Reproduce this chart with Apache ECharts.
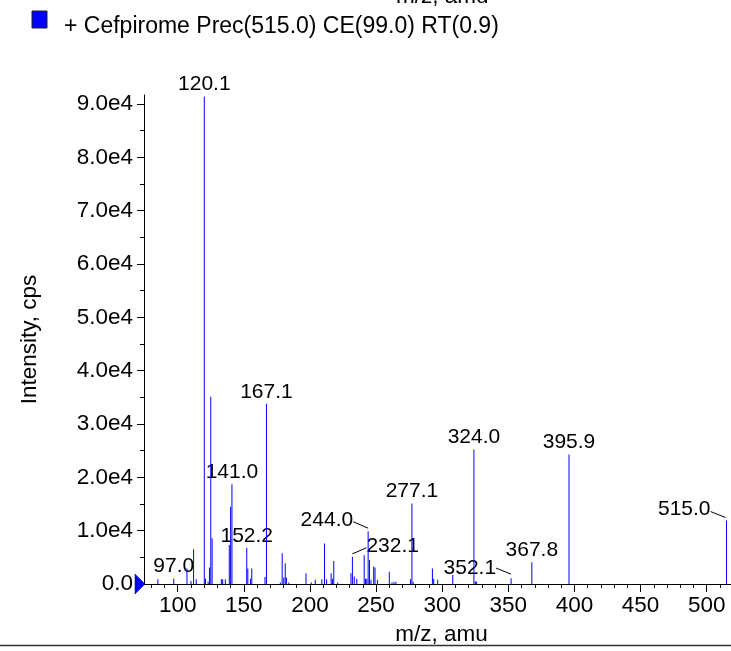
<!DOCTYPE html>
<html><head><meta charset="utf-8">
<script src="https://cdn.jsdelivr.net/npm/echarts@6/dist/echarts.min.js"></script>
<style>html,body{margin:0;padding:0;background:#fff}#c{width:731px;height:651px}</style>
</head><body><div id="c"></div>
<script>
const seriesName = '+ Cefpirome Prec(515.0) CE(99.0) RT(0.9)';
const xAxisTitle = 'm/z, amu';
const yAxisTitle = 'Intensity, cps';

// spectrum sticks (m/z, intensity in cps)
const peakMz = [85.0, 97.0, 107.0, 110.0, 112.0, 114.0, 120.1, 121.0, 123.0, 124.0, 125.0, 126.0,
  133.0, 134.0, 136.0, 139.0, 140.0, 141.0, 152.2, 153.0, 155.0, 156.0, 166.0, 167.1,
  177.6, 179.0, 180.2, 181.3, 182.2, 184.0, 197.0, 201.0, 204.0, 209.0, 211.0, 212.6,
  216.0, 217.0, 218.0, 221.0, 231.0, 232.1, 233.5, 235.4, 241.0, 242.0, 243.0, 244.0,
  245.0, 246.2, 248.2, 249.2, 251.0, 260.0, 262.0, 263.5, 265.0, 276.0, 277.1, 278.0,
  292.6, 293.6, 296.6, 308.0, 324.0, 325.0, 326.0, 352.1, 367.8, 395.9, 515.0];
const peakIntensity = [900, 1000, 2900, 560, 6500, 900, 91400, 1000, 400, 3100, 35100, 8600,
  900, 900, 900, 7300, 14500, 18700, 6800, 2900, 1000, 2900, 1300, 33800,
  300, 5750, 1200, 3900, 1200, 300, 2000, 300, 800, 900, 7600, 900,
  2000, 1000, 4300, 300, 2000, 5100, 1400, 1000, 5400, 1000, 1000, 9900,
  4500, 800, 3300, 3100, 800, 2300, 300, 400, 400, 900, 15100, 400,
  2900, 1000, 800, 1700, 25200, 500, 400, 1100, 4100, 24300, 11900];

// annotated peaks
const labeledMz = [97.0, 120.1, 141.0, 152.2, 167.1, 232.1, 244.0, 277.1, 324.0, 352.1, 367.8, 395.9, 515.0];
const labeledIntensity = [1000, 91400, 18700, 6800, 33800, 5100, 9900, 15100, 25200, 1100, 4100, 24300, 11900];

// axis ticks
const xTickValues = [100, 150, 200, 250, 300, 350, 400, 450, 500];
const xMinorTickValues = [80, 90, 110, 120, 130, 140, 160, 170, 180, 190, 210, 220, 230, 240,
  260, 270, 280, 290, 310, 320, 330, 340, 360, 370, 380, 390, 410, 420, 430, 440,
  460, 470, 480, 490, 510];
const yTickValues = [0, 10000, 20000, 30000, 40000, 50000, 60000, 70000, 80000, 90000];
const yMinorTickValues = [5000, 15000, 25000, 35000, 45000, 55000, 65000, 75000, 85000];
const xRange = [74.5, 518.4];
const yRange = [0, 91700];

const FONT = '"Liberation Sans", Arial, Helvetica, sans-serif';
const TICK_FS = 22.5, PEAK_FS = 21, LEGEND_FS = 23;
const SERIES_COLOR = '#0000ff';

// label placement styles (pixel offsets from the peak top), keyed by label text
const leaderStyles = {
  '244.0': { tx: -15, ty: -11, align: 'right', line: [[-15, -9.5], [0, -3]] },
  '232.1': { tx: 14, ty: -11, align: 'left', line: [[0, -3], [14, -9]] },
  '352.1': { tx: -15, ty: -10, align: 'right', line: [[-15, -10], [0, -4]] },
  '515.0': { tx: -16, ty: -11, align: 'right', line: [[-16, -9], [-1, -3]] }
};

const chart = echarts.init(document.getElementById('c'), null, { renderer: 'canvas' });

const fmtY = v => v === 0 ? '0.0' : (v / 10000).toFixed(1) + 'e4';

chart.setOption({
  animation: false,
  backgroundColor: '#fff',
  textStyle: { fontFamily: FONT },
  grid: { left: 144, right: 0, top: 95, bottom: 66, containLabel: false },
  xAxis: [{
    type: 'value', min: xRange[0], max: xRange[1],
    name: xAxisTitle, nameLocation: 'middle', nameGap: 39,
    nameTextStyle: { fontSize: TICK_FS, color: '#000', fontFamily: FONT, padding: [0, 0, 0, 8] },
    axisLine: { onZero: false, lineStyle: { color: '#000', width: 1 } },
    axisTick: { customValues: xTickValues, length: 8, lineStyle: { color: '#000' } },
    axisLabel: { customValues: xTickValues, fontSize: TICK_FS, color: '#000', margin: 10, fontFamily: FONT },
    splitLine: { show: false }
  }, {
    type: 'value', min: xRange[0], max: xRange[1], position: 'bottom',
    axisLine: { show: false },
    axisTick: { customValues: xMinorTickValues, length: 4, lineStyle: { color: '#000' } },
    axisLabel: { show: false },
    splitLine: { show: false }
  }],
  yAxis: [{
    type: 'value', min: yRange[0], max: yRange[1],
    name: yAxisTitle, nameLocation: 'middle', nameGap: 103, nameRotate: 90,
    nameTextStyle: { fontSize: TICK_FS, color: '#000', fontFamily: FONT },
    axisLine: { show: true, lineStyle: { color: '#000', width: 1 } },
    axisTick: { show: true, customValues: yTickValues, length: 7, lineStyle: { color: '#000' } },
    axisLabel: { customValues: yTickValues, formatter: fmtY, fontSize: TICK_FS, color: '#000', margin: 11, fontFamily: FONT },
    splitLine: { show: false }
  }, {
    type: 'value', min: yRange[0], max: yRange[1], position: 'left',
    axisLine: { show: false },
    axisTick: { show: true, customValues: yMinorTickValues, length: 4, lineStyle: { color: '#000' } },
    axisLabel: { show: false },
    splitLine: { show: false }
  }],
  series: [{
    name: seriesName,
    type: 'bar',
    xAxisIndex: 0, yAxisIndex: 0,
    barWidth: 1,
    itemStyle: { color: SERIES_COLOR },
    data: peakMz.map((m, i) => [m, peakIntensity[i]]),
    markPoint: {
      symbol: 'path://M0,0L10,10L0,20Z',
      symbolSize: [10, 20],
      symbolOffset: [-4, 0],
      itemStyle: { color: SERIES_COLOR, borderColor: '#00008a', borderWidth: 0.5 },
      label: { show: false },
      data: [{ coord: [xRange[0], 0] }]
    }
  }, {
    name: 'peakLabels',
    type: 'custom',
    xAxisIndex: 0, yAxisIndex: 0,
    clip: false,
    silent: true,
    data: labeledMz.map((m, i) => [m, labeledIntensity[i]]),
    renderItem: function (params, api) {
      const mz = api.value(0), it = api.value(1);
      const p = api.coord([mz, it]);
      const txt = mz.toFixed(1);
      const s = leaderStyles[txt];
      const children = [];
      if (s) {
        children.push({
          type: 'text',
          style: { text: txt, x: p[0] + s.tx, y: p[1] + s.ty, align: s.align, verticalAlign: 'middle',
            fill: '#000', fontSize: PEAK_FS, fontFamily: FONT }
        });
        children.push({
          type: 'line',
          shape: { x1: p[0] + s.line[0][0], y1: p[1] + s.line[0][1], x2: p[0] + s.line[1][0], y2: p[1] + s.line[1][1] },
          style: { stroke: '#000', lineWidth: 1 }
        });
      } else {
        children.push({
          type: 'text',
          style: { text: txt, x: p[0], y: p[1] - 12, align: 'center', verticalAlign: 'middle',
            fill: '#000', fontSize: PEAK_FS, fontFamily: FONT }
        });
      }
      return { type: 'group', children: children };
    }
  }],
  graphic: [{
    // legend swatch and entry
    type: 'rect', shape: { x: 32, y: 11, width: 15, height: 17 },
    style: { fill: SERIES_COLOR, stroke: '#222', lineWidth: 1 }
  }, {
    type: 'text', x: 64, y: 27,
    style: { text: seriesName, fill: '#000', fontSize: LEGEND_FS, fontFamily: FONT, verticalAlign: 'middle' }
  }, {
    // x-axis title of the panel above, cut by the top edge
    type: 'text', left: 396, top: -15,
    style: { text: xAxisTitle, fill: '#000', fontSize: TICK_FS, fontFamily: FONT }
  }, {
    type: 'line',
    shape: { x1: 0, y1: 645.5, x2: 731, y2: 645.5 },
    style: { stroke: '#333', lineWidth: 1.5 }
  }]
});
</script>
</body></html>
